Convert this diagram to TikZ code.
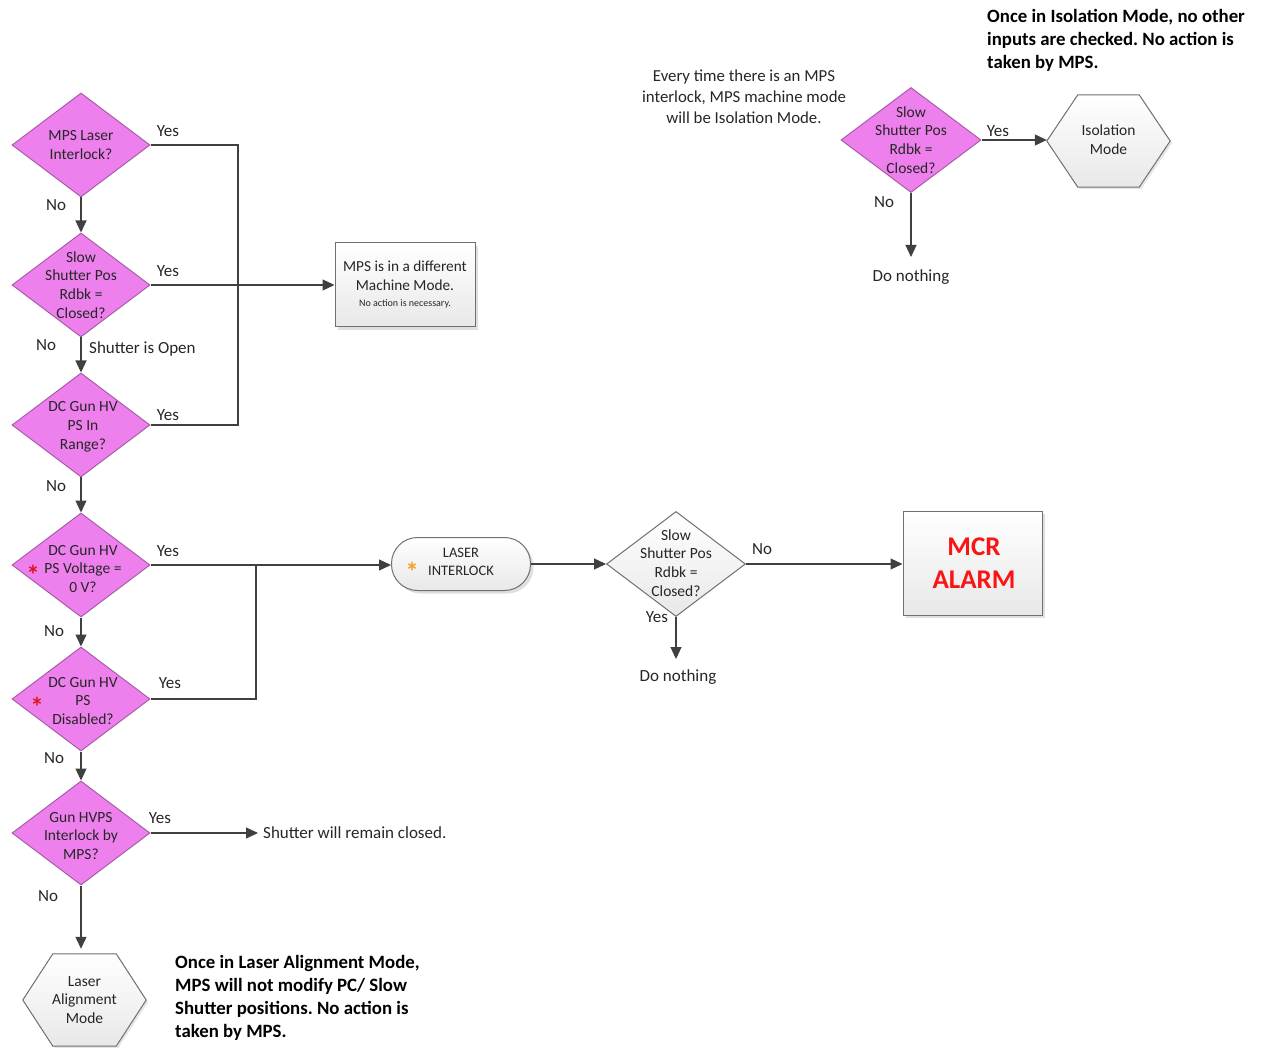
\documentclass[tikz,border=0pt]{standalone}
\usepackage{fontspec}
\setmainfont{Carlito}
\usetikzlibrary{shapes.geometric,arrows.meta,shadows,calc}
\definecolor{pinkfill}{RGB}{238,128,238}
\definecolor{pinkline}{RGB}{168,92,168}
\definecolor{greyfill}{RGB}{232,232,232}
\definecolor{greyline}{RGB}{112,112,112}
\definecolor{wire}{RGB}{64,64,64}
\definecolor{txt}{RGB}{38,38,38}
\definecolor{alarmred}{RGB}{250,20,20}
\definecolor{starorange}{RGB}{245,160,40}
\definecolor{starred}{RGB}{225,20,30}
\frenchspacing
\begin{document}
\begin{tikzpicture}[x=1pt,y=-1pt,
  dia/.style={diamond, draw=pinkline, fill=pinkfill, line width=1pt,
    minimum width=138pt, minimum height=104pt, inner sep=0pt},
  greydia/.style={diamond, draw=greyline, line width=1pt, top color=white, bottom color=greyfill,
    minimum width=139pt, minimum height=105pt, inner sep=0pt},
  dtext/.style={font=\fontsize{15.5}{18.8}\selectfont, align=center, text=txt, inner sep=0pt},
  lbl/.style={font=\fontsize{17}{20}\selectfont, text=txt, inner sep=0pt},
  note/.style={font=\fontsize{16.8}{21}\selectfont, text=txt, inner sep=0pt},
  boldnote/.style={font=\fontsize{18.8}{23}\selectfont\bfseries, text=black, inner sep=0pt, align=left},
  greybox/.style={rectangle, draw=greyline, line width=1pt, top color=white, bottom color=greyfill,
    drop shadow={opacity=0.25, shadow xshift=3pt, shadow yshift=-3pt}},
  hexframe/.style={rectangle, draw=none, inner sep=0pt, minimum width=123pt, minimum height=92pt},
  hexfill/.style={draw=greyline, line width=1pt, top color=white, bottom color=greyfill,
    drop shadow={opacity=0.2, shadow xshift=2pt, shadow yshift=-2pt}},
  wire/.style={draw=wire, line width=1.2pt},
  arr/.style={wire, -{Triangle[length=12pt,width=11pt]}},
  asterisk/.style={font=\fontsize{27}{27}\selectfont\bfseries, inner sep=0pt}
]
\useasboundingbox (0,0) rectangle (1267,1048);

% ---------- left column of decisions ----------
\node[dia] (d1) at (81,145) {};
\node[dtext] (d1t) at (81,145) {MPS Laser\\Interlock?};
\node[dia] (d2) at (81,285) {};
\node[dtext] (d2t) at (81,285) {Slow\\Shutter Pos\\Rdbk =\\Closed?};
\node[dia] (d3) at (81,425) {};
\node[dtext] (d3t) at (83,427) {DC Gun HV\\PS In\\Range?};
\node[dia] (d4) at (81,565) {};
\node[dtext] (d4t) at (83,569) {DC Gun HV\\PS Voltage =\\0 V?};
\node[dia] (d5) at (81,699) {};
\node[dtext] (d5t) at (83,701) {DC Gun HV\\PS\\Disabled?};
\node[dia] (d6) at (81,833) {};
\node[dtext] (d6t) at (81,836) {Gun HVPS\\Interlock by\\MPS?};

\node[asterisk, text=starred] (s4) at (33,575) {*};
\node[asterisk, text=starred] (s5) at (37,707) {*};

% laser alignment hexagon
\node[hexframe] (las) at (84.5,1000) {};
\path[hexfill] (las.west) -- ($(las.north west)+(30,0)$) -- ($(las.north east)+(-30,0)$)
  -- (las.east) -- ($(las.south east)+(-30,0)$) -- ($(las.south west)+(30,0)$) -- cycle;
\node[dtext] (last) at (84.5,1000) {Laser\\Alignment\\Mode};

% ---------- machine mode box ----------
\node[greybox, minimum width=140pt, minimum height=84pt, inner sep=0pt] (box) at (405,285) {};
\node[dtext, font=\fontsize{15.3}{19.5}\selectfont] (boxt) at (405,276) {MPS is in a different\\Machine Mode.};
\node[dtext, font=\fontsize{10}{12}\selectfont] (boxs) at (405,304) {No action is necessary.};

% ---------- laser interlock branch ----------
\node[greybox, minimum width=139pt, minimum height=53pt, rounded corners=26pt, inner sep=0pt] (lock) at (461,564) {};
\node[dtext, font=\fontsize{14.5}{18}\selectfont] (lockt) at (461,562) {LASER\\INTERLOCK};
\node[asterisk, text=starorange] (s6) at (412,572) {*};

\node[greydia] (gd) at (676,564) {};
\node[dtext] (gdt) at (676,563) {Slow\\Shutter Pos\\Rdbk =\\Closed?};

\node[greybox, minimum width=139pt, minimum height=104pt, inner sep=0pt] (mcr) at (972.5,563) {};
\node[font=\fontsize{27}{33}\selectfont\bfseries, text=alarmred, align=center, inner sep=0pt] (mcrt) at (974,563) {MCR\\ALARM};

\node[lbl, anchor=north, inner ysep=10pt] (dn2) at (678,659) {Do nothing};

% ---------- isolation mode check ----------
\node[dia, minimum width=140pt, minimum height=105pt] (td) at (911,140) {};
\node[dtext] (tdt) at (911,140) {Slow\\Shutter Pos\\Rdbk =\\Closed?};
\node[hexframe] (iso) at (1108.5,141) {};
\path[hexfill] (iso.west) -- ($(iso.north west)+(31,0)$) -- ($(iso.north east)+(-31,0)$)
  -- (iso.east) -- ($(iso.south east)+(-31,0)$) -- ($(iso.south west)+(31,0)$) -- cycle;
\node[dtext] (isot) at (1108.5,140) {Isolation\\Mode};
\node[lbl, anchor=north, inner ysep=12pt] (dn1) at (911,257) {Do nothing};

% ---------- notes ----------
\node[note, align=center] (n1) at (744,97) {Every time there is an MPS\\interlock, MPS machine mode\\will be Isolation Mode.};
\node[boldnote, anchor=west] (n2) at (987,40) {Once in Isolation Mode, no other\\inputs are checked. No action is\\taken by MPS.};
\node[boldnote, anchor=west] (n3) at (175,997.5) {Once in Laser Alignment Mode,\\MPS will not modify PC/ Slow\\Shutter positions. No action is\\taken by MPS.};

\node[lbl, anchor=west, inner xsep=5pt] (src) at (258,833) {Shutter will remain closed.};

% ---------- connectors ----------
\coordinate (j1) at (238,145);
\coordinate (j2) at (238,425);
\coordinate (j3) at (256,565);
\coordinate (j4) at (256,699);

\draw[arr] (d1.south) -- (d2.north);
\draw[arr] (d2.south) -- (d3.north);
\draw[arr] (d3.south) -- (d4.north);
\draw[arr] (d4.south) -- (d5.north);
\draw[arr] (d5.south) -- (d6.north);
\draw[arr] (d6.south) -- ($(d6.south |- las.north)+(0,-5)$);

\draw[wire] (d1.east) -- (j1) -- (j2) -- (d3.east);
\draw[arr] (d2.east) -- (box.west);
\draw[arr] (d4.east) -- (d4.east -| lock.west);
\draw[wire] (d5.east) -- (j4) -- (j3);
\draw[arr] (d6.east) -- (src.west);

\draw[arr] (lock.east) -- (gd.west);
\draw[arr] (gd.east) -- (gd.east -| mcr.west);
\draw[arr] (gd.south) -- (gd.south |- dn2.north);

\draw[arr] (td.east) -- (td.east -| iso.west);
\draw[arr] (td.south) -- (td.south |- dn1.north);

% ---------- branch labels ----------
\node[lbl] (y1) at (168,131) {Yes};
\node[lbl] (y2) at (168,271) {Yes};
\node[lbl] (y3) at (168,415) {Yes};
\node[lbl] (y4) at (168,551) {Yes};
\node[lbl] (y5) at (170,683) {Yes};
\node[lbl] (y6) at (160,818) {Yes};
\node[lbl] (y7) at (998,131) {Yes};
\node[lbl] (y8) at (657,617) {Yes};
\node[lbl] (no1) at (56,205) {No};
\node[lbl] (no2) at (46,345) {No};
\node[lbl] (no3) at (56,486) {No};
\node[lbl] (no4) at (54,631) {No};
\node[lbl] (no5) at (54,758) {No};
\node[lbl] (no6) at (48,896) {No};
\node[lbl] (no7) at (884,202) {No};
\node[lbl] (no8) at (762,549) {No};
\node[lbl, anchor=west] (open) at (89,349) {Shutter is Open};
\end{tikzpicture}
\end{document}
